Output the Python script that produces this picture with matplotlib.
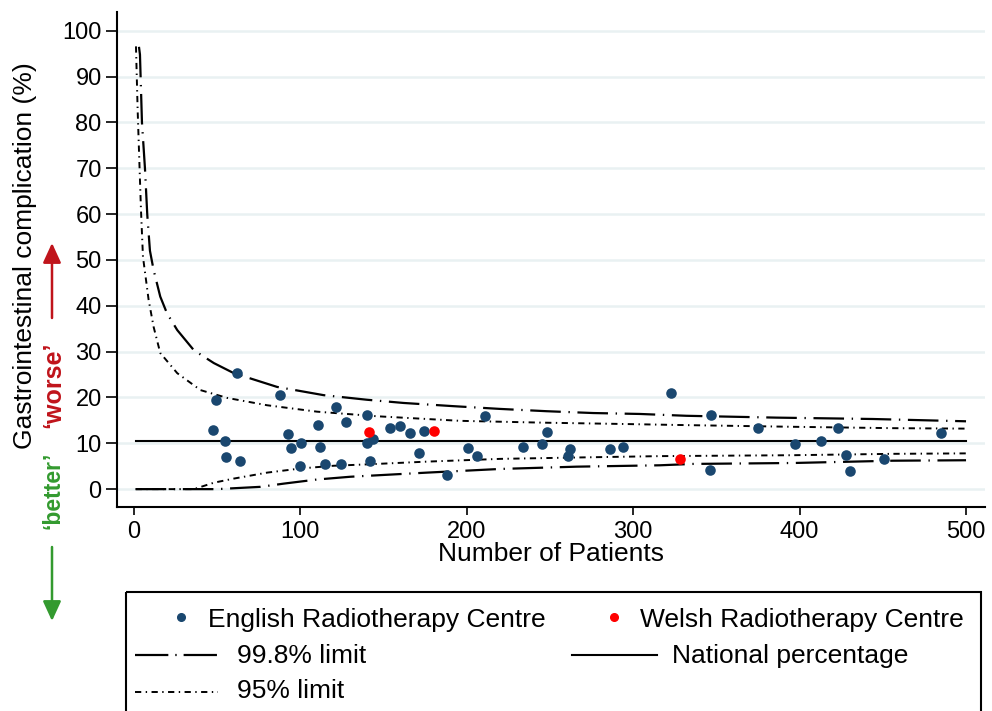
import numpy as np
import matplotlib
matplotlib.use("Agg")
import matplotlib.pyplot as plt
from matplotlib.patches import Rectangle, FancyArrowPatch

plt.rcParams['font.family'] = ['Liberation Sans', 'DejaVu Sans']
plt.rcParams['lines.scale_dashes'] = False

# centres: (number of patients, complication %)
eng_n = [47.5, 49, 54.5, 55.5, 62, 64, 87.5, 92.5, 94.5, 99.5, 100.4, 110.6, 111.5,
         114.5, 121.5, 124.4, 127.4, 140, 140, 142, 143.6, 154, 160, 166, 174, 171,
         188, 201, 206, 211, 234, 245, 248, 261, 262, 286, 294, 323, 346, 347, 375,
         397, 413, 423, 428, 430, 451, 485]
eng_y = [12.9, 19.4, 10.5, 7.0, 25.3, 6.2, 20.6, 12.0, 9.0, 5.0, 10.1, 14.0, 9.2,
         5.5, 18.0, 5.5, 14.6, 16.2, 10.0, 6.2, 10.9, 13.3, 13.8, 12.3, 12.7, 7.8,
         3.1, 9.0, 7.3, 15.9, 9.2, 9.8, 12.5, 7.2, 8.7, 8.7, 9.2, 21.0, 4.1, 16.2, 13.4,
         9.8, 10.4, 13.4, 7.4, 3.9, 6.6, 12.2]
wel_n = [141, 180, 328]
wel_y = [12.4, 12.7, 6.6]

national = 10.4

# control limits
up998_n = [3.0, 3.6, 4.8, 6.6, 8.0, 9.6, 11.8, 15.8, 19.8, 26, 36, 48, 60, 86, 114, 140,
           162, 192, 220, 248, 276, 304, 332, 386, 444, 500]
up998_y = [96.5, 94.8, 80, 70, 59.8, 52, 47.8, 42, 38.4, 34.7, 30.3, 27.5, 25.3, 22.3,
           20.5, 19.5, 18.8, 18.1, 17.5, 17.0, 16.6, 16.4, 16.0, 15.6, 15.3, 14.8]
up95_n = [1.2, 2.2, 3.2, 4.2, 5.4, 8.8, 11.8, 15.8, 26, 40, 56, 80, 110, 146, 196, 246,
          296, 326, 396, 456, 500]
up95_y = [96.6, 82.8, 71.8, 61, 50.7, 41.3, 35.4, 29.7, 25.3, 21.6, 19.9, 18.3, 16.9,
          15.9, 14.9, 14.5, 14.2, 14.0, 13.6, 13.3, 13.2]
lo95_n = [1, 36, 48, 60, 80, 100, 120, 140, 176, 220, 266, 316, 396, 456, 500]
lo95_y = [0, 0, 1.4, 2.3, 3.6, 4.5, 5.1, 5.4, 6.0, 6.6, 6.9, 7.2, 7.4, 7.7, 7.8]
lo998_n = [1, 50, 76, 90, 110, 130, 176, 220, 266, 316, 336, 396, 456, 500]
lo998_y = [0, 0, 0.5, 1.2, 2.1, 2.7, 3.6, 4.4, 4.9, 5.2, 5.5, 5.7, 6.2, 6.3]

navy = '#1a476f'
red = '#ff0000'
worse_col = '#c0141b'
better_col = '#339a2f'
dash998 = (0, (22, 5.5, 1, 5.5))
dash95 = (0, (4.5, 3.2, 1, 3.2))

fig = plt.figure(figsize=(9.92, 7.11), dpi=100)
ax = fig.add_axes([117/992, 1 - 507/711, (985-117)/992, (507-12)/711])

for v in range(0, 101, 10):
    ax.axhline(v, color='#e9f1f2', lw=1.8, zorder=0)

ax.plot([1, 500], [national, national], color='black', lw=1.5, zorder=2)
ax.plot(up998_n, up998_y, color='black', lw=1.6, ls=dash998, zorder=2)
ax.plot(lo998_n, lo998_y, color='black', lw=1.6, ls=dash998, zorder=2)
ax.plot(up95_n, up95_y, color='black', lw=1.4, ls=dash95, zorder=2)
ax.plot(lo95_n, lo95_y, color='black', lw=1.4, ls=dash95, zorder=2)

ax.scatter(eng_n, eng_y, s=58, color=navy, zorder=3, linewidths=0)
ax.scatter(wel_n, wel_y, s=58, color=red, zorder=3, linewidths=0)

ax.set_xlim(-10.2, 511.4)
ax.set_ylim(-3.9, 104.1)
ax.set_xticks(range(0, 501, 100))
ax.set_yticks(range(0, 101, 10))
ax.tick_params(labelsize=17, width=1.2, direction='out')
ax.tick_params(axis='x', length=6, pad=4)
ax.tick_params(axis='y', length=8, pad=3)
for s in ['top', 'right']:
    ax.spines[s].set_visible(False)
for s in ['left', 'bottom']:
    ax.spines[s].set_linewidth(1.5)

fig.text(551/992, 1 - 561/711, 'Number of Patients', fontsize=19, ha='center', va='baseline')
fig.text(25/992, 1 - 256/711, 'Gastrointestinal complication (%)', fontsize=19,
         rotation=90, ha='center', va='center')

# worse / better annotations
fig.text(53/992, 1 - 385/711, '\u2018worse\u2019', rotation=90, color=worse_col,
         fontsize=18, fontweight='bold', ha='center', va='center')
fig.text(53/992, 1 - 490/711, '\u2018better\u2019', rotation=90, color=better_col,
         fontsize=16.5, fontweight='bold', ha='center', va='center')
fig.add_artist(FancyArrowPatch((52/992, 1 - 318/711), (52/992, 1 - 243/711),
                               transform=fig.transFigure,
                               arrowstyle='-|>,head_length=12,head_width=5.5',
                               color=worse_col, lw=1.8, shrinkA=0, shrinkB=0))
fig.add_artist(FancyArrowPatch((52/992, 1 - 547/711), (52/992, 1 - 621/711),
                               transform=fig.transFigure,
                               arrowstyle='-|>,head_length=12,head_width=5.5',
                               color=better_col, lw=1.8, shrinkA=0, shrinkB=0))

# legend box drawn by hand in pixel-like units
lax = fig.add_axes([126/992, 0, (982-126)/992, (711-592)/711])
lax.set_xlim(126, 982)
lax.set_ylim(711, 592)
lax.axis('off')
lax.add_patch(Rectangle((126, 592), 855, 130, fill=False, lw=1.5, ec='black', clip_on=False))
lax.plot([181], [617], 'o', color=navy, ms=5.5)
lax.text(208, 627, 'English Radiotherapy Centre', fontsize=19, va='baseline')
lax.plot([614], [617], 'o', color=red, ms=5.5)
lax.text(640, 627, 'Welsh Radiotherapy Centre', fontsize=19, va='baseline')
lax.plot([135, 218], [655, 655], color='black', lw=1.6, ls=(0, (24, 5, 1, 5)))
lax.text(237, 663, '99.8% limit', fontsize=19, va='baseline')
lax.plot([572, 657], [655, 655], color='black', lw=1.5)
lax.text(672, 663, 'National percentage', fontsize=19, va='baseline')
lax.plot([135, 218], [692, 692], color='black', lw=1.4, ls=dash95)
lax.text(237, 698, '95% limit', fontsize=19, va='baseline')

fig.savefig('out.png', dpi=100)
